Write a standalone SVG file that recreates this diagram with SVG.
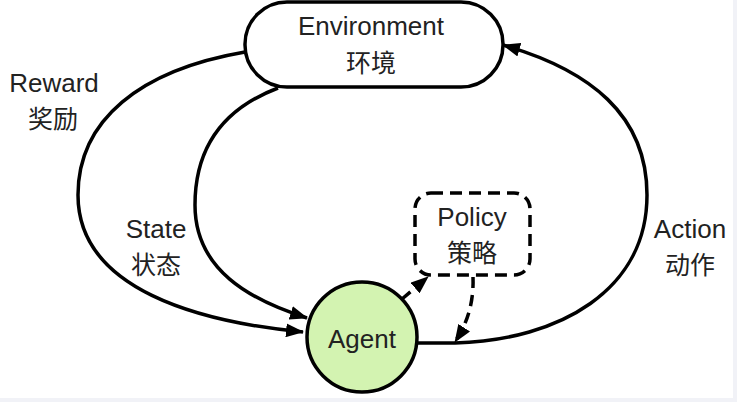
<svg xmlns="http://www.w3.org/2000/svg" width="737" height="402" viewBox="0 0 737 402">
<style>
.t{font-family:"Liberation Sans","Noto Sans CJK SC",sans-serif;font-size:26px;fill:#222;text-anchor:middle}
.c{font-family:"Noto Sans CJK SC",sans-serif;font-size:25px;fill:#222;text-anchor:middle}
.ln{fill:none;stroke:#000;stroke-width:3.5}
.dl{fill:none;stroke:#000;stroke-width:3.5;stroke-dasharray:11 7}
</style>
<defs>
<marker id="ah" markerUnits="userSpaceOnUse" markerWidth="18" markerHeight="14" refX="17" refY="7" orient="auto">
<path d="M0,0 L18,7 L0,14 z" fill="#000"/>
</marker>
</defs>
<rect x="0" y="0" width="737" height="402" fill="#fff"/>
<rect x="733" y="0" width="4" height="402" fill="#f1f2f7"/>
<rect x="0" y="398" width="737" height="4" fill="#f1f2f7"/>
<g id="connectors">
<path class="ln" d="M245 52 C140 70 78 120 78 195 C78 290 200 322 303 332" marker-end="url(#ah)"/>
<path class="ln" d="M278 88 C220 110 195 150 195 205 C195 270 250 300 307 318" marker-end="url(#ah)"/>
<path class="ln" d="M417 343 L455 343 C560 340 647 290 647 195 C647 115 590 70 503 45" marker-end="url(#ah)"/>
<path class="dl" d="M402 299 L428 277" marker-end="url(#ah)"/>
<path class="dl" d="M473 277 C474 305 466 325 455 342" marker-end="url(#ah)"/>
</g>
<g id="environment">
<rect x="245" y="2" width="258" height="85" rx="42" ry="42" fill="#fff" stroke="#000" stroke-width="3.5"/>
<text class="t" x="371" y="35">Environment</text>
<text class="c" x="371" y="72">环境</text>
</g>
<g id="agent">
<circle cx="362" cy="337" r="55" fill="#d3f3b1" stroke="#000" stroke-width="3.5"/>
<text class="t" x="362" y="348">Agent</text>
</g>
<g id="policy">
<rect x="415" y="193" width="115" height="82" rx="16" ry="16" fill="#fff" stroke="#000" stroke-width="3.5" stroke-dasharray="12 7"/>
<text class="t" x="472" y="226">Policy</text>
<text class="c" x="472" y="262">策略</text>
</g>
<g id="labels">
<text class="t" x="54" y="92">Reward</text>
<text class="c" x="53" y="128">奖励</text>
<text class="t" x="156" y="238">State</text>
<text class="c" x="156" y="274">状态</text>
<text class="t" x="690" y="238">Action</text>
<text class="c" x="690" y="274">动作</text>
</g>
</svg>
